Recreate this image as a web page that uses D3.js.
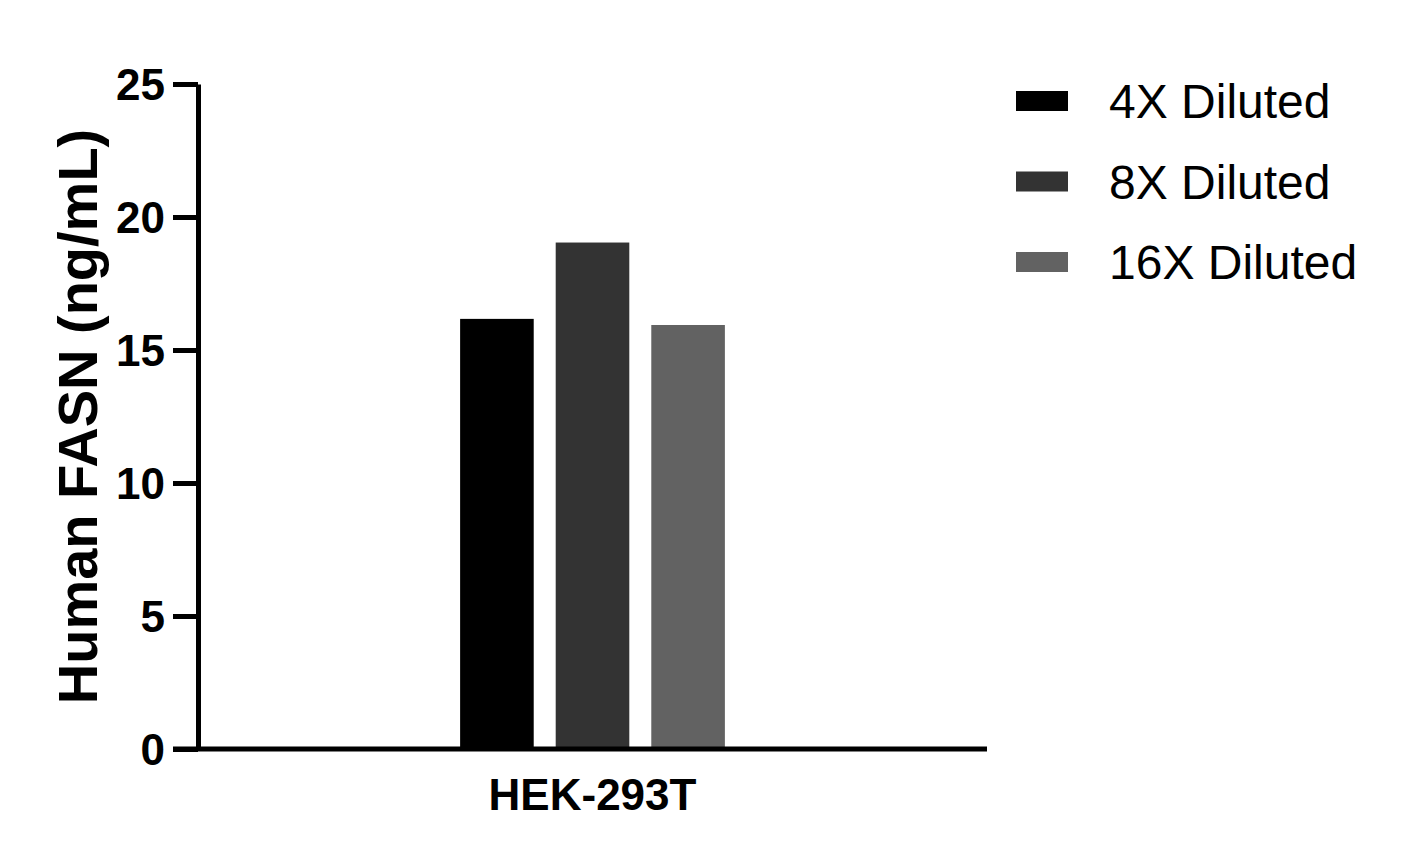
<!DOCTYPE html>
<html>
<head>
<meta charset="utf-8">
<script src="https://cdn.jsdelivr.net/npm/d3@7"></script>
<style>
  html, body { margin: 0; padding: 0; background: #fff; }
  #chart { width: 1404px; height: 867px; }
  text { font-family: "Liberation Sans", Arial, sans-serif; }
</style>
</head>
<body>
<div id="chart"></div>
<script>
const categories = ["HEK-293T"];
const seriesNames = ["4X Diluted", "8X Diluted", "16X Diluted"];
const seriesValues = [16.17, 19.04, 15.94];
const seriesColors = ["#000000", "#333333", "#626262"];
const yTicks = [0, 5, 10, 15, 20, 25];

function renderChart() {
  const width = 1404, height = 867;
  const margin = { top: 84, right: 417, bottom: 118, left: 198 };

  const svg = d3.select("#chart").append("svg")
    .attr("width", width)
    .attr("height", height);

  const x = d3.scaleBand()
    .domain(categories)
    .range([margin.left, width - margin.right])
    .paddingOuter(0.99);

  const xInner = d3.scaleBand()
    .domain(seriesNames)
    .range([0, x.bandwidth()])
    .paddingInner(0.23);

  const y = d3.scaleLinear()
    .domain([0, 25])
    .range([height - margin.bottom, margin.top]);

  // bars
  const rows = seriesNames.map((name, i) => ({ name, value: seriesValues[i], color: seriesColors[i] }));
  svg.append("g")
    .selectAll("rect")
    .data(rows)
    .join("rect")
    .attr("x", d => x(categories[0]) + xInner(d.name))
    .attr("y", d => y(d.value))
    .attr("width", xInner.bandwidth())
    .attr("height", d => y(0) - y(d.value))
    .attr("fill", d => d.color);

  // y axis
  const yAxis = svg.append("g")
    .attr("transform", `translate(${margin.left},0)`)
    .call(d3.axisLeft(y).tickValues(yTicks).tickSize(25).tickPadding(8).tickSizeOuter(0));
  yAxis.select(".domain").attr("stroke", "#000").attr("stroke-width", 5);
  yAxis.selectAll(".tick line").attr("stroke", "#000").attr("stroke-width", 5);
  yAxis.selectAll(".tick text")
    .attr("fill", "#000")
    .style("font-size", "44px")
    .style("font-weight", "bold")
    .attr("dy", "0.36em");

  // x axis
  const xAxis = svg.append("g")
    .attr("transform", `translate(0,${y(0)})`)
    .call(d3.axisBottom(x).tickSize(0).tickPadding(30).tickSizeOuter(0));
  xAxis.select(".domain")
    .attr("stroke", "#000")
    .attr("stroke-width", 5)
    .attr("d", `M${margin.left - 25},0H${width - margin.right}`);
  xAxis.selectAll(".tick text")
    .attr("fill", "#000")
    .style("font-size", "44px")
    .style("font-weight", "bold");

  // y title
  svg.append("text")
    .attr("transform", `translate(97,${(y(0) + y(25)) / 2} ) rotate(-90)`)
    .attr("text-anchor", "middle")
    .style("font-size", "56px")
    .style("font-weight", "bold")
    .attr("fill", "#000")
    .text("Human FASN (ng/mL)");

  // legend
  const legend = svg.append("g")
    .attr("transform", "translate(1016,101)");
  const item = legend.selectAll("g")
    .data(rows)
    .join("g")
    .attr("transform", (d, i) => `translate(0,${i * 80.5})`);
  item.append("rect")
    .attr("x", 0)
    .attr("y", -10)
    .attr("width", 52)
    .attr("height", 20)
    .attr("fill", d => d.color);
  item.append("text")
    .attr("x", 93)
    .attr("dy", "0.36em")
    .style("font-size", "48px")
    .attr("fill", "#000")
    .text(d => d.name);
}

renderChart();
</script>
</body>
</html>
